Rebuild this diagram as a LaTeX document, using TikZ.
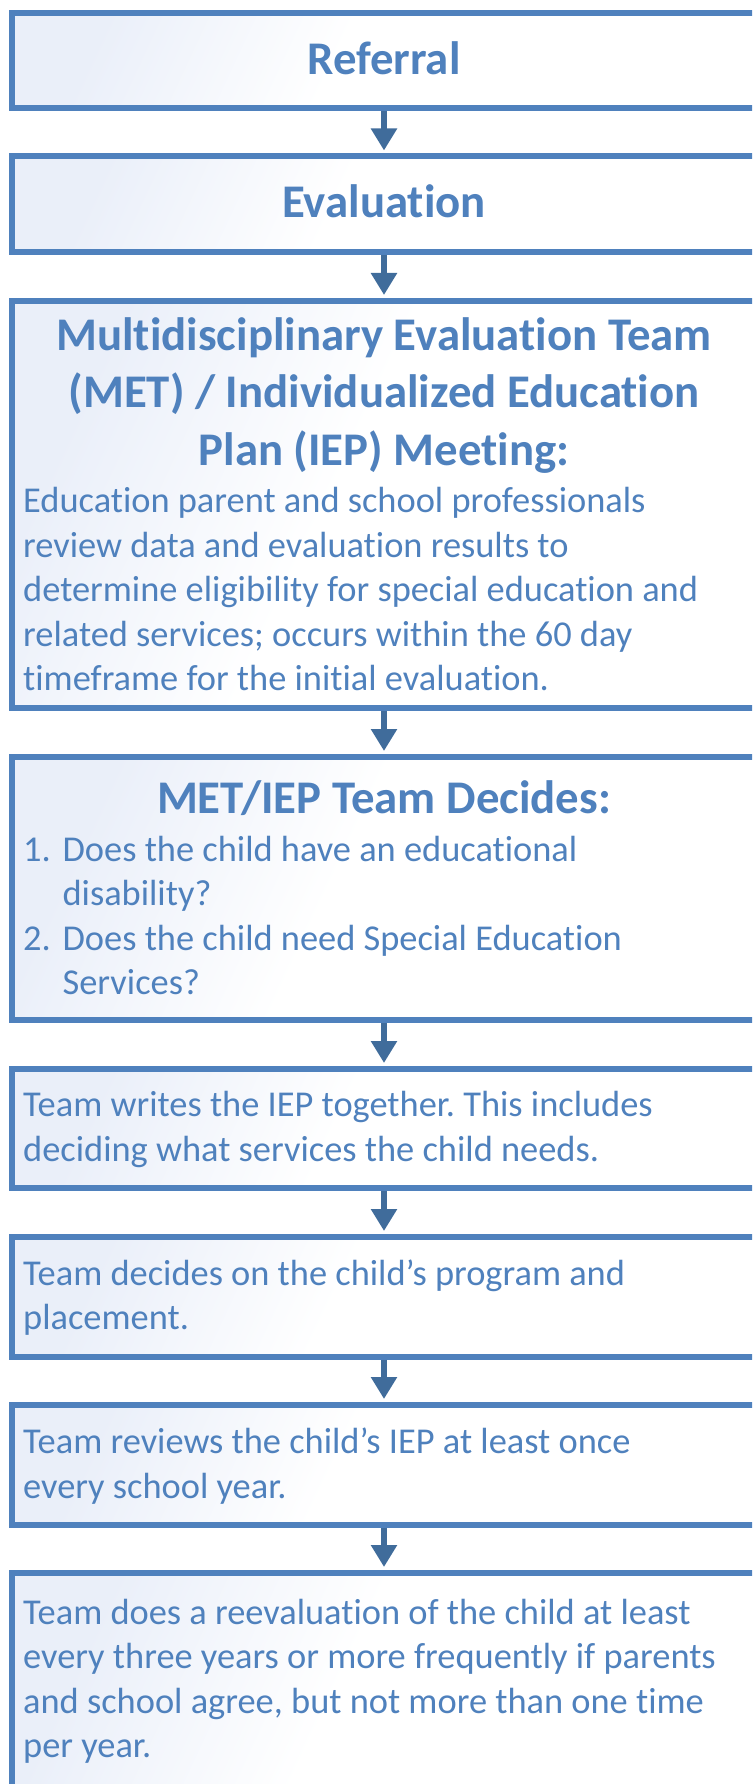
\documentclass[tikz,border=0pt]{standalone}
\usepackage{fontspec}
\setmainfont[Ligatures={NoCommon,NoContextual,NoRare},Contextuals=NoAlternate]{Carlito}
\usetikzlibrary{arrows.meta}
\definecolor{bordc}{RGB}{79,129,189}
\definecolor{textc}{RGB}{79,129,189}
\definecolor{arrc}{RGB}{64,108,155}
\definecolor{tint}{RGB}{234,239,249}
\pgfdeclarehorizontalshading{boxfill}{100bp}{color(0bp)=(tint); color(25bp)=(tint); color(46bp)=(white); color(100bp)=(white)}
\tikzset{
  flowbox/.style={draw=bordc, line width=6pt, shading=boxfill, shading angle=-25, rectangle, minimum width=744pt, inner sep=0pt},
  ttl/.style={anchor=base, inner sep=0pt, text=textc, font=\fontsize{46.8}{57.2}\selectfont\bfseries},
  bdy/.style={anchor=base west, inner sep=0pt, text=textc, font=\fontsize{36.4}{44.4}\selectfont},
  arr/.style={draw=arrc, line width=5.5pt, -{Triangle[width=25pt,length=22pt]}, shorten >=3pt}
}
\frenchspacing
\newcommand{\nti}{t\kern0pt i}
\begin{document}
\begin{tikzpicture}[x=1pt,y=-1pt]
\useasboundingbox (0,0) rectangle (752,1784);
\clip (0,0) rectangle (752,1784);
% boxes
\node[flowbox, minimum height=95.5pt] (b1) at (384,60.5) {};
\node[flowbox, minimum height=95.5pt] (b2) at (384,204.25) {};
\node[flowbox, minimum height=407pt] (b3) at (384,504.5) {};
\node[flowbox, minimum height=263pt] (b4) at (384,888.5) {};
\node[flowbox, minimum height=119pt] (b5) at (384,1128.5) {};
\node[flowbox, minimum height=119.5pt] (b6) at (384,1296.75) {};
\node[flowbox, minimum height=119.5pt] (b7) at (384,1464.75) {};
\node[flowbox, minimum height=257pt] (b8) at (384,1701.5) {};
% connectors
\draw[arr] (b1.south) -- (b2.north);
\draw[arr] (b2.south) -- (b3.north);
\draw[arr] (b3.south) -- (b4.north);
\draw[arr] (b4.south) -- (b5.north);
\draw[arr] (b5.south) -- (b6.north);
\draw[arr] (b6.south) -- (b7.north);
\draw[arr] (b7.south) -- (b8.north);
% texts
\node[ttl] (t1) at (384,75) {Referral};
\node[ttl] (t2) at (384,218) {Evalua\nti on};
\node[ttl] (t3a) at (384,350) {Multidisciplinary Evalua\nti on Team};
\node[ttl] (t3b) at (384,407.5) {(MET) / Individualized Educa\nti on};
\node[ttl] (t3c) at (384,465) {Plan (IEP) Mee\nti ng:};
\node[bdy] (t3d) at (23,512.7) {Educa\nti on parent and school professionals};
\node[bdy] (t3e) at (23,557) {review data and evalua\nti on results to};
\node[bdy] (t3f) at (23,601.5) {determine eligibility for special educa\nti on and};
\node[bdy] (t3g) at (23,646) {related services; occurs within the 60 day};
\node[bdy] (t3h) at (23,690) {\nti meframe for the ini\nti al evalua\nti on.};
\node[ttl] (t4a) at (384,813.3) {MET/IEP Team Decides:};
\node[bdy] (t4n1) at (23,861.7) {1.};
\node[bdy] (t4b) at (62.4,861.7) {Does the child have an educa\nti onal};
\node[bdy] (t4c) at (62.4,905.5) {disability?};
\node[bdy] (t4n2) at (23,950) {2.};
\node[bdy] (t4d) at (62.4,950) {Does the child need Special Educa\nti on};
\node[bdy] (t4e) at (62.4,994.5) {Services?};
\node[bdy] (t5a) at (23,1116.7) {Team writes the IEP together. This includes};
\node[bdy] (t5b) at (23,1161.5) {deciding what services the child needs.};
\node[bdy] (t6a) at (23,1285) {Team decides on the child’s program and};
\node[bdy] (t6b) at (23,1329.5) {placement.};
\node[bdy] (t7a) at (23,1453.3) {Team reviews the child’s IEP at least once};
\node[bdy] (t7b) at (23,1498) {every school year.};
\node[bdy] (t8a) at (23,1624) {Team does a reevalua\nti on of the child at least};
\node[bdy] (t8b) at (23,1668.5) {every three years or more frequently if parents};
\node[bdy] (t8c) at (23,1713) {and school agree, but not more than one \nti me};
\node[bdy] (t8d) at (23,1757.5) {per year.};
\end{tikzpicture}
\end{document}
